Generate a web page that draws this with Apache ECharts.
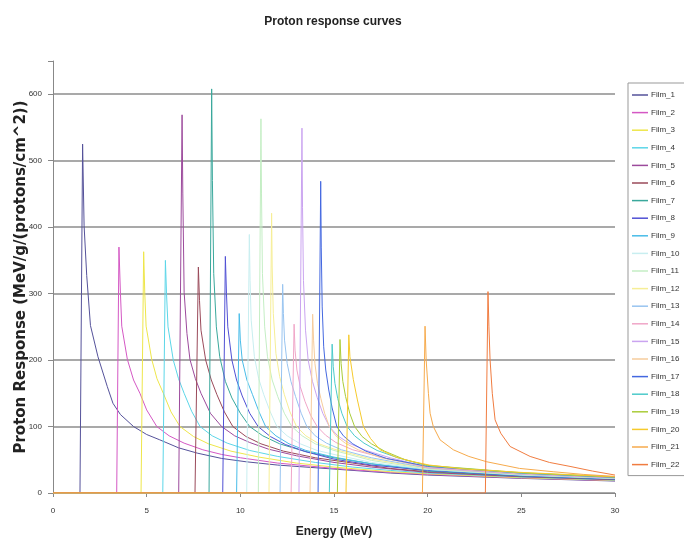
<!DOCTYPE html>
<html>
<head>
<meta charset="utf-8">
<script src="https://cdn.jsdelivr.net/npm/echarts@6.0.0/dist/echarts.min.js"></script>
<style>
  html, body { margin: 0; padding: 0; background: #fff; }
  #chart { width: 684px; height: 546px; }
</style>
</head>
<body>
<div id="chart"></div>
<script>
// energy (MeV), response (MeV/g/(protons/cm^2))
const film1 = [[0,0],[1.44,0],[1.58,525],[1.66,402],[1.8,327],[2.0,252],[2.4,205],[2.9,160],[3.2,135],[3.6,118],[4.3,100],[5.0,88],[5.7,80],[6.7,68],[7.7,60],[9,52],[10.3,47],[12,42],[15,36],[18,30],[20,27],[25,22],[30,18]];
const film2 = [[0,0],[3.4,0],[3.52,370],[3.6,300],[3.67,251],[3.97,201],[4.3,170],[4.64,150],[5.0,125],[5.54,100],[6.2,86],[7,75],[8,65],[9,58],[10,53],[12,45],[15,37],[18,31],[20,28],[25,22.5],[30,18.5]];
const film3 = [[0,0],[4.7,0],[4.84,363],[4.9,300],[4.97,251],[5.27,201],[5.55,172],[5.89,150],[6.3,122],[6.78,100],[7.5,85],[8.3,74],[9.5,63],[11,54],[13,45],[15,39],[18,32],[20,29],[25,23],[30,19]];
const film4 = [[0,0],[5.86,0],[6.0,350],[6.06,300],[6.14,250],[6.42,200],[6.7,172],[7.0,150],[7.4,123],[7.85,100],[8.5,86],[9.3,75],[10.5,64],[12,55],[14,46],[16,39],[18,34],[20,30],[25,24],[30,19.5]];
const film5 = [[0,0],[6.71,0],[6.89,569],[6.93,450],[7.0,302],[7.15,240],[7.31,201],[7.6,172],[7.9,150],[8.4,120],[9.0,100],[9.7,86],[10.5,76],[11.5,66],[13,56],[15,46],[17,39],[20,31],[25,24.5],[30,20]];
const film6 = [[0,0],[7.58,0],[7.76,340],[7.82,290],[7.9,245],[8.15,200],[8.45,170],[8.75,148],[9.15,122],[9.6,100],[10.3,85],[11.1,74],[12.3,63],[14,53],[16,45],[18,37],[20,32],[25,25],[30,20.5]];
const film7 = [[0,0],[8.33,0],[8.47,608],[8.51,470],[8.58,330],[8.72,250],[8.9,205],[9.2,168],[9.55,143],[10.0,120],[10.5,100],[11.2,86],[12.1,74],[13.4,63],[15,53],[17,44],[20,33],[25,25.5],[30,21]];
const film8 = [[0,0],[9.06,0],[9.2,356],[9.26,300],[9.33,250],[9.55,200],[9.8,170],[10.1,146],[10.5,120],[10.95,100],[11.6,85],[12.4,73],[13.5,62],[15,51],[17,42],[20,34],[25,26],[30,21]];
const film9 = [[0,0],[9.8,0],[9.94,270],[10.0,230],[10.1,200],[10.35,170],[10.65,148],[11.0,122],[11.35,100],[11.9,86],[12.6,74],[13.5,64],[15,54],[17,44],[20,35],[25,26.5],[30,21.5]];
const film10 = [[0,0],[10.34,0],[10.48,389],[10.52,320],[10.58,260],[10.75,205],[10.98,172],[11.25,148],[11.6,122],[11.95,100],[12.5,86],[13.2,74],[14.1,64],[15,58],[17,46],[20,35.5],[25,27],[30,22]];
const film11 = [[0,0],[10.96,0],[11.1,563],[11.13,450],[11.18,330],[11.3,250],[11.45,205],[11.7,170],[12.0,145],[12.35,120],[12.75,100],[13.3,86],[14,74],[15,64],[17,49],[20,36],[25,27.5],[30,22]];
const film12 = [[0,0],[11.53,0],[11.67,421],[11.7,340],[11.76,270],[11.9,210],[12.1,175],[12.35,148],[12.65,122],[13.0,100],[13.5,86],[14.2,74],[15,66],[17,51],[20,37],[25,28],[30,22.5]];
const film13 = [[0,0],[12.12,0],[12.26,314],[12.3,270],[12.36,230],[12.5,195],[12.7,168],[12.95,145],[13.25,120],[13.55,100],[14.0,86],[14.6,75],[15.4,65],[17,53],[20,37.5],[25,28],[30,22.5]];
const film14 = [[0,0],[12.71,0],[12.87,254],[12.92,215],[13.02,185],[13.2,160],[13.45,138],[13.75,117],[14.1,100],[14.55,87],[15.1,76],[16,65],[17.5,54],[20,38],[25,28.5],[30,23]];
const film15 = [[0,0],[13.13,0],[13.29,549],[13.32,430],[13.37,320],[13.48,245],[13.62,200],[13.85,168],[14.1,144],[14.4,120],[14.75,100],[15.2,86],[15.8,75],[16.6,65],[18,53],[20,39],[25,29],[30,23]];
const film16 = [[0,0],[13.72,0],[13.86,269],[13.91,230],[13.98,195],[14.12,165],[14.3,142],[14.5,120],[14.75,100],[15.1,86],[15.6,75],[16.3,65],[17.5,53],[20,39.5],[25,29.5],[30,23.5]];
const film17 = [[0,0],[14.15,0],[14.29,469],[14.32,370],[14.37,280],[14.45,220],[14.56,185],[14.72,155],[14.9,128],[15.15,100],[15.5,86],[16.0,74],[16.7,63],[17.8,52],[20,40],[25,30],[30,23.5]];
const film18 = [[0,0],[14.75,0],[14.9,224],[14.96,190],[15.05,165],[15.2,142],[15.42,120],[15.7,100],[16.1,86],[16.6,75],[17.3,64],[18.4,53],[20,41],[25,30],[30,24]];
const film19 = [[0,0],[15.18,0],[15.32,231],[15.38,195],[15.47,168],[15.62,145],[15.84,120],[16.1,100],[16.5,85],[17.0,74],[17.7,63],[18.8,50],[20,41.5],[25,30.5],[30,24]];
const film20 = [[0,0],[15.64,0],[15.79,238],[15.85,205],[16.03,171],[16.25,140],[16.57,100],[16.95,82],[17.46,65],[18.3,54],[19.24,47],[20.1,42],[22,36],[25,31],[30,24.5]];
const film21 = [[0,0],[19.72,0],[19.86,251],[19.92,200],[20.04,150],[20.13,120],[20.3,100],[20.66,80],[21.37,65],[22.2,55],[23.15,47],[24.9,37],[26.7,32],[28.3,28],[30,25]];
const film22 = [[0,0],[23.08,0],[23.22,303],[23.27,250],[23.33,201],[23.45,150],[23.6,110],[23.9,90],[24.4,70],[25.47,55],[26.5,46],[27.6,40],[28.8,33],[30,27]];

const films = [film1, film2, film3, film4, film5, film6, film7, film8, film9, film10, film11,
  film12, film13, film14, film15, film16, film17, film18, film19, film20, film21, film22];
const filmNames = films.map((d, i) => 'Film_' + (i + 1));
const filmColors = ['#55529a', '#d458c4', '#eee64a', '#5cd6e8', '#9c4a9c', '#9a4a5a', '#3aa89c', '#5050d4',
  '#48bce8', '#c8eef0', '#c4eec4', '#f6ee96', '#98c4f0', '#f0a6c8', '#caa4f0', '#f6cc9c',
  '#4468e0', '#4ccaca', '#aacc3a', '#f6ca2c', '#f6aa4c', '#f07c40'];

const xTicks = { min: 0, max: 30, interval: 5 };
const yTicks = { min: 0, max: 650, interval: 100 };

const chart = echarts.init(document.getElementById('chart'));

chart.setOption({
  animation: false,
  backgroundColor: '#fff',
  textStyle: { fontFamily: 'Liberation Sans, Arial, sans-serif' },
  title: {
    text: 'Proton response curves',
    left: 328,
    textAlign: 'center',
    top: 11,
    textStyle: { fontSize: 12, fontWeight: 'bold', color: '#222' }
  },
  grid: { left: 53, right: 69, top: 61, bottom: 53, outerBoundsMode: 'none', containLabel: false },
  legend: {
    orient: 'vertical',
    left: 628,
    top: 83,
    padding: [7, 30, 6, 4],
    icon: 'rect',
    itemWidth: 16,
    itemHeight: 1.5,
    itemGap: 7.6,
    borderColor: '#999',
    borderWidth: 1,
    textStyle: { fontSize: 8, lineHeight: 10, color: '#333', padding: [0, 0, 0, -2] },
    data: filmNames
  },
  xAxis: {
    type: 'value',
    min: xTicks.min,
    max: xTicks.max,
    interval: xTicks.interval,
    name: 'Energy (MeV)',
    nameLocation: 'middle',
    nameGap: 33,
    nameMoveOverlap: false,
    nameTextStyle: { fontSize: 12, fontWeight: 'bold', color: '#222' },
    axisLine: { lineStyle: { color: '#888', width: 1 } },
    axisTick: { show: true, inside: false, length: 4, lineStyle: { color: '#888' } },
    axisLabel: { fontSize: 8, color: '#333', margin: 14 },
    splitLine: { show: false }
  },
  yAxis: {
    type: 'value',
    min: yTicks.min,
    max: yTicks.max,
    interval: yTicks.interval,
    name: 'Proton Response (MeV/g/(protons/cm^2))',
    nameLocation: 'middle',
    nameGap: 24,
    nameMoveOverlap: false,
    nameTextStyle: { fontSize: 15, fontWeight: 'bold', color: '#222', fontFamily: 'DejaVu Sans' },
    axisLine: { show: true, lineStyle: { color: '#888', width: 1 } },
    axisTick: { show: true, length: 5, lineStyle: { color: ['#888', '#888', '#888', '#888', '#888', '#888', '#888', 'rgba(0,0,0,0)'] } },
    axisLabel: {
      fontSize: 8, color: '#333', margin: 11,
      formatter: v => (v > 600 ? '' : v)
    },
    splitLine: {
      show: true,
      lineStyle: {
        width: 1.5,
        color: ['#8c8c8c', '#8c8c8c', '#8c8c8c', '#8c8c8c', '#8c8c8c', '#8c8c8c', '#8c8c8c', 'rgba(0,0,0,0)']
      }
    }
  },
  series: films.map((d, i) => ({
    name: filmNames[i],
    type: 'line',
    data: d,
    symbol: 'none',
    showSymbol: false,
    lineStyle: { width: 1, color: filmColors[i] },
    itemStyle: { color: filmColors[i] }
  }))
});
</script>
</body>
</html>
